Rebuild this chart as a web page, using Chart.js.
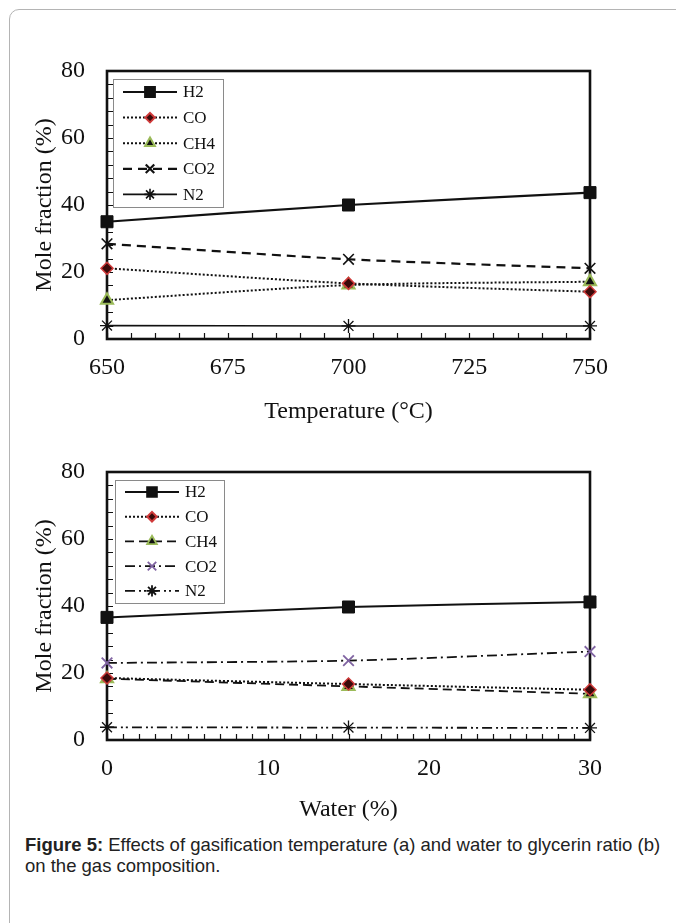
<!DOCTYPE html>
<html lang="en">
<head>
<meta charset="UTF-8" />
<title>Figure 5 - gas composition</title>
<script src="https://cdn.jsdelivr.net/npm/chart.js"></script>
<style>
  html, body { margin: 0; padding: 0; background: #fff; width: 676px; height: 923px; overflow: hidden; }
  .card {
    position: absolute; left: 9px; top: 9px; width: 720px; height: 940px;
    border: 1px solid #b4b4b4; border-radius: 10px; box-sizing: border-box;
  }
  #tempChart { position: absolute; left: 0; top: 0; }
  #waterChart { position: absolute; left: 0; top: 430px; }
  .caption {
    position: absolute; left: 25px; top: 834px; width: 650px;
    font-family: 'Liberation Sans', Arial, sans-serif; font-size: 18.5px; line-height: 21px; color: #222;
  }
</style>
</head>
<body>
<div class="card"></div>
<canvas id="tempChart" width="676" height="430"></canvas>
<canvas id="waterChart" width="676" height="400"></canvas>
<div class="caption"><b>Figure 5:</b> Effects of gasification temperature (a) and water to glycerin ratio (b)<br>on the gas composition.</div>

<script>
  // (a) temperature
  const tempX = [650, 700, 750];
  const tempH2 = [35.0, 40.0, 43.7];
  const tempCO = [21.1, 16.6, 14.1];
  const tempCH4 = [11.6, 16.1, 17.1];
  const tempCO2 = [28.4, 23.8, 21.1];
  const tempN2 = [4.0, 3.9, 3.9];

  // (b) water to glycerin ratio
  const waterX = [0, 15, 30];
  const waterH2 = [36.6, 39.7, 41.2];
  const waterCO = [18.5, 16.7, 15.0];
  const waterCH4 = [18.3, 16.0, 13.8];
  const waterCO2 = [23.0, 23.7, 26.4];
  const waterN2 = [3.8, 3.7, 3.6];

  const serif = "'Liberation Serif', 'Times New Roman', serif";
  const ink = '#111';

  const pts = (xs, ys) => xs.map((x, i) => ({ x: x, y: ys[i] }));

  // inside tick marks + heavy frame, like the excel original
  const framePlugin = {
    id: 'frame',
    beforeDatasetsDraw(chart, args, opts) {
      const { ctx, chartArea: a, scales } = chart;
      ctx.save();
      ctx.strokeStyle = ink;
      ctx.lineWidth = 1.2;
      ctx.beginPath();
      for (let v = scales.x.min; v <= scales.x.max + 1e-9; v += opts.xStep) {
        const px = Math.round(scales.x.getPixelForValue(v)) + 0.5;
        ctx.moveTo(px, a.bottom);
        ctx.lineTo(px, a.bottom - 6);
      }
      for (let v = scales.y.min; v <= scales.y.max + 1e-9; v += opts.yStep) {
        const py = Math.round(scales.y.getPixelForValue(v)) + 0.5;
        ctx.moveTo(a.left, py);
        ctx.lineTo(a.left + 6, py);
      }
      ctx.stroke();
      ctx.lineWidth = 2.6;
      ctx.strokeRect(a.left, a.top, a.right - a.left, a.bottom - a.top);
      ctx.restore();
    }
  };

  // legend box inside the plot, top-left
  const boxLegend = {
    id: 'boxLegend',
    afterDatasetsDraw(chart, args, opts) {
      const { ctx, chartArea: a } = chart;
      const x0 = a.left + opts.dx, y0 = a.top + opts.dy;
      ctx.save();
      ctx.fillStyle = '#fff';
      ctx.fillRect(x0, y0, opts.w, opts.h);
      ctx.strokeStyle = '#8a8a8a';
      ctx.lineWidth = 1;
      ctx.strokeRect(x0 + 0.5, y0 + 0.5, opts.w, opts.h);
      chart.data.datasets.forEach((ds, i) => {
        const cy = y0 + opts.first + i * opts.gap;
        ctx.strokeStyle = ds.borderColor;
        ctx.lineWidth = ds.borderWidth;
        ctx.setLineDash(ds.borderDash || []);
        ctx.beginPath();
        ctx.moveTo(x0 + 10, cy);
        ctx.lineTo(x0 + 64, cy);
        ctx.stroke();
        ctx.setLineDash([]);
        ctx.fillStyle = ds.pointBackgroundColor;
        ctx.strokeStyle = ds.pointBorderColor;
        Chart.helpers.drawPoint(ctx, {
          pointStyle: ds.pointStyle, radius: ds.pointRadius * 0.8,
          borderWidth: ds.pointBorderWidth, rotation: 0
        }, x0 + 37, cy);
        ctx.fillStyle = ink;
        ctx.font = '17px ' + serif;
        ctx.textBaseline = 'middle';
        ctx.fillText(ds.label, x0 + 70, cy + 1);
      });
      ctx.restore();
    }
  };

  function series(label, data, dash, width, style, radius, fill, edge, edgeW) {
    return {
      label: label, data: data, borderColor: ink, borderWidth: width, borderDash: dash,
      pointStyle: style, pointRadius: radius, pointBackgroundColor: fill,
      pointBorderColor: edge, pointBorderWidth: edgeW, tension: 0.25, clip: false
    };
  }

  function axes(xMin, xMax, xStep, xTitle, xHeight, titlePad) {
    return {
      x: {
        type: 'linear', min: xMin, max: xMax,
        afterFit: s => { s.height = xHeight; },
        grid: { display: false, drawTicks: false }, border: { display: false },
        ticks: { stepSize: xStep, padding: 14, maxRotation: 0, color: ink, font: { family: serif, size: 24 } },
        title: { display: true, text: xTitle, color: ink, font: { family: serif, size: 24 }, padding: { bottom: titlePad } }
      },
      y: {
        min: 0, max: 80,
        afterFit: s => { s.width = 107; },
        grid: { display: false, drawTicks: false }, border: { display: false },
        ticks: { stepSize: 20, padding: 22, color: ink, font: { family: serif, size: 24 } },
        title: { display: true, text: 'Mole fraction (%)', color: ink, font: { family: serif, size: 24 }, padding: { top: 30 } }
      }
    };
  }

  const common = {
    responsive: false, animation: false, devicePixelRatio: 1,
    plugins: { legend: { display: false }, tooltip: { enabled: false } }
  };

  new Chart(document.getElementById('tempChart'), {
    type: 'line',
    data: {
      datasets: [
        series('H2', pts(tempX, tempH2), [], 2.2, 'rect', 8.5, ink, ink, 1),
        series('CO', pts(tempX, tempCO), [2, 2], 2, 'rectRot', 6, '#3a0a0a', '#d03a3a', 1.5),
        series('CH4', pts(tempX, tempCH4), [2, 2], 2, 'triangle', 7, ink, '#9bbb59', 2),
        series('CO2', pts(tempX, tempCO2), [9, 6], 2.2, 'crossRot', 7.5, ink, ink, 1.6),
        series('N2', pts(tempX, tempN2), [], 1.6, 'star', 7, ink, ink, 1.3)
      ]
    },
    options: Object.assign({}, common, {
      layout: { padding: { top: 71, right: 86, left: 0, bottom: 0 } },
      scales: axes(650, 750, 25, 'Temperature (\u00B0C)', 91, 4),
      plugins: Object.assign({}, common.plugins, {
        frame: { xStep: 5, yStep: 4 },
        boxLegend: { dx: 6, dy: 8, w: 110, h: 128, first: 13, gap: 25.6 }
      })
    }),
    plugins: [framePlugin, boxLegend]
  });

  new Chart(document.getElementById('waterChart'), {
    type: 'line',
    data: {
      datasets: [
        series('H2', pts(waterX, waterH2), [], 2, 'rect', 8.5, ink, ink, 1),
        series('CO', pts(waterX, waterCO), [2, 2], 2, 'rectRot', 6, '#3a0a0a', '#d03a3a', 1.5),
        series('CH4', pts(waterX, waterCH4), [9, 5], 1.8, 'triangle', 7, ink, '#9bbb59', 2),
        series('CO2', pts(waterX, waterCO2), [10, 4, 2, 4], 1.8, 'crossRot', 7.5, '#8064a2', '#8064a2', 1.8),
        series('N2', pts(waterX, waterN2), [10, 4, 2, 3, 2, 4], 1.8, 'star', 7, ink, ink, 1.3)
      ]
    },
    options: Object.assign({}, common, {
      layout: { padding: { top: 42, right: 86, left: 0, bottom: 0 } },
      scales: axes(0, 30, 10, 'Water (%)', 90, 6),
      plugins: Object.assign({}, common.plugins, {
        frame: { xStep: 1, yStep: 4 },
        boxLegend: { dx: 8, dy: 8, w: 109, h: 123, first: 12, gap: 24.7 }
      })
    }),
    plugins: [framePlugin, boxLegend]
  });
</script>
</body>
</html>
